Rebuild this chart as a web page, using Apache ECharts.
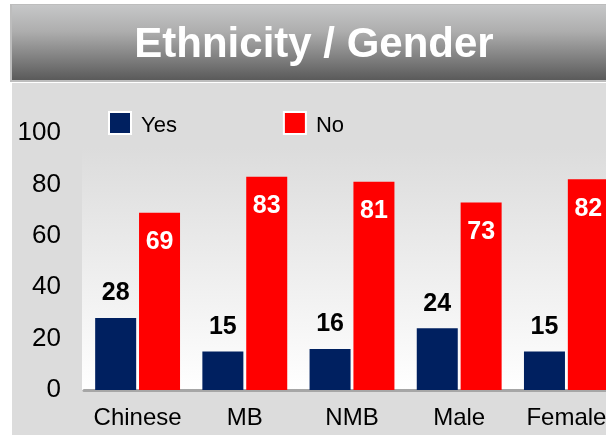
<!DOCTYPE html>
<html>
<head>
<meta charset="utf-8">
<style>
  html, body { margin: 0; padding: 0; background: #ffffff; overflow: hidden; }
  #chart { width: 620px; height: 435px; }
</style>
<script src="https://cdn.jsdelivr.net/npm/echarts@6/dist/echarts.min.js"></script>
</head>
<body>
<div id="chart"></div>
<script>
// Survey split by ethnicity and gender (percent)
const categories = ['Chinese', 'MB', 'NMB', 'Male', 'Female'];
const yesValues = [28, 15, 16, 24, 15];
const noValues = [69, 83, 81, 73, 82];
const seriesNames = ['Yes', 'No'];
const chartTitle = 'Ethnicity / Gender';

const FONT = 'Liberation Sans, Arial, sans-serif';
const chart = echarts.init(document.getElementById('chart'), null, { renderer: 'canvas' });

chart.setOption({
  animation: false,
  backgroundColor: '#ffffff',
  graphic: [
    // panel body
    { type: 'rect', z: -10, shape: { x: 12, y: 83, width: 620, height: 360 },
      style: { fill: '#dcdcdc' } },
    // plot backdrop, fading to white toward the baseline
    { type: 'rect', z: -9, shape: { x: 82, y: 148, width: 540, height: 242 },
      style: { fill: new echarts.graphic.LinearGradient(0, 0, 0, 1, [
        { offset: 0, color: '#dcdcdc' }, { offset: 1, color: '#ffffff' }]) } },
    // header bar
    { type: 'rect', z: -8, shape: { x: 10, y: 4, width: 620, height: 78 },
      style: { fill: '#bdbdbd' } },
    { type: 'rect', z: -7, shape: { x: 12, y: 5, width: 620, height: 75 },
      style: { fill: new echarts.graphic.LinearGradient(0, 0, 0, 1, [
        { offset: 0, color: '#c6c7c8' }, { offset: 0.35, color: '#aeaeae' },
        { offset: 1, color: '#5a5a5a' }]) } },
    { type: 'text', z: 5, x: 314, y: 45,
      style: { text: chartTitle, fill: '#ffffff', font: 'bold 42px ' + FONT,
        textAlign: 'center', textVerticalAlign: 'middle' } }
  ],
  legend: {
    left: 108, top: 111, padding: 0,
    itemWidth: 22, itemHeight: 22, itemGap: 106,
    icon: 'rect',
    itemStyle: { borderColor: '#ffffff', borderWidth: 2 },
    formatter: '{t|{name}}',
    textStyle: {
      fontFamily: FONT, fontSize: 22, color: '#000000',
      rich: { t: { fontFamily: FONT, fontSize: 22, color: '#000000', padding: [6, 0, 0, 5] } }
    },
    data: seriesNames
  },
  grid: { left: 84, right: 0, top: 133, bottom: 45, containLabel: false },
  xAxis: {
    type: 'category',
    data: categories,
    axisLine: { lineStyle: { color: '#a6a6a6', width: 3 } },
    axisTick: { show: false },
    axisLabel: { interval: 0, fontFamily: FONT, fontSize: 24, color: '#000000', margin: 16 }
  },
  yAxis: {
    type: 'value', min: 0, max: 100, interval: 20,
    axisLine: { show: false },
    axisTick: { show: false },
    splitLine: { show: false },
    axisLabel: { fontFamily: FONT, fontSize: 26, color: '#000000', margin: 23 }
  },
  series: [
    {
      name: seriesNames[0], type: 'bar', data: yesValues,
      barWidth: 41, barGap: '7%',
      itemStyle: { color: '#002060' },
      label: { show: true, position: 'top', distance: 12,
        fontFamily: FONT, fontSize: 25, fontWeight: 'bold', color: '#000000' }
    },
    {
      name: seriesNames[1], type: 'bar', data: noValues,
      barWidth: 41,
      itemStyle: { color: '#ff0000' },
      label: { show: true, position: 'insideTop', distance: 17,
        fontFamily: FONT, fontSize: 25, fontWeight: 'bold', color: '#ffffff' }
    }
  ]
});
</script>
</body>
</html>
